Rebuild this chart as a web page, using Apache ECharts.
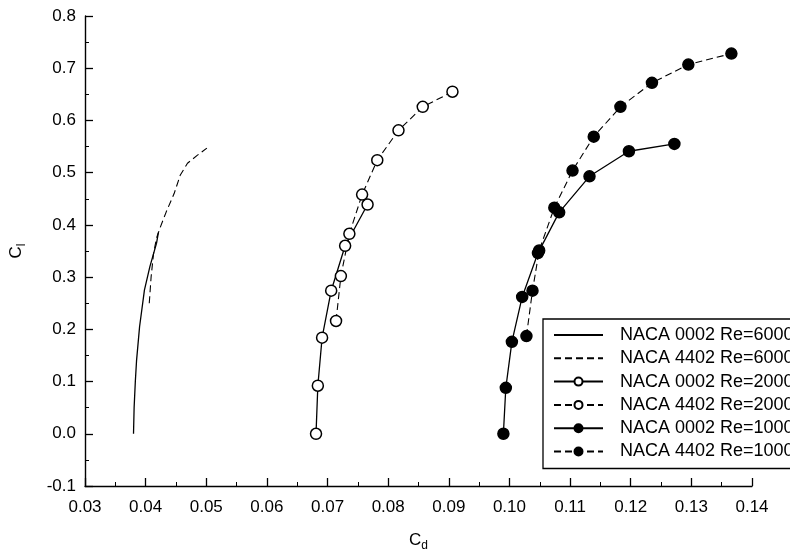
<!DOCTYPE html>
<html>
<head>
<meta charset="utf-8">
<script src="https://cdn.jsdelivr.net/npm/echarts@6/dist/echarts.min.js"></script>
<style>
html,body{margin:0;padding:0;background:#fff;}
#chart{width:790px;height:549px;}
</style>
</head>
<body>
<div id="chart"></div>
<script>
// ---- data ----
const seriesNames = [
  'NACA 0002 Re=6000',
  'NACA 4402 Re=6000',
  'NACA 0002 Re=2000',
  'NACA 4402 Re=2000',
  'NACA 0002 Re=1000',
  'NACA 4402 Re=1000'
];
const cd0002Re6000 = [0.0380, 0.0381, 0.0383, 0.0385, 0.0390, 0.0398, 0.0407, 0.0418, 0.0421];
const cl0002Re6000 = [0.000, 0.050, 0.100, 0.140, 0.205, 0.275, 0.320, 0.365, 0.385];
const cd4402Re6000 = [0.0406, 0.0409, 0.0413, 0.0418, 0.0424, 0.0434, 0.0447, 0.0457, 0.0469, 0.0485, 0.0501];
const cl4402Re6000 = [0.250, 0.300, 0.345, 0.375, 0.395, 0.425, 0.460, 0.495, 0.518, 0.533, 0.547];
const cd0002Re2000 = [0.0681, 0.0684, 0.0691, 0.0706, 0.0729, 0.0766];
const cl0002Re2000 = [0.000, 0.092, 0.184, 0.274, 0.360, 0.439];
const cd4402Re2000 = [0.0714, 0.0722, 0.0736, 0.0757, 0.0782, 0.0817, 0.0857, 0.0906];
const cl4402Re2000 = [0.216, 0.302, 0.383, 0.458, 0.524, 0.581, 0.626, 0.655];
const cd0002Re1000 = [0.0990, 0.0994, 0.1004, 0.1021, 0.1047, 0.1082, 0.1132, 0.1197, 0.1272];
const cl0002Re1000 = [0.000, 0.088, 0.176, 0.262, 0.346, 0.424, 0.493, 0.541, 0.555];
const cd4402Re1000 = [0.1028, 0.1038, 0.1049, 0.1074, 0.1104, 0.1139, 0.1183, 0.1235, 0.1295, 0.1366];
const cl4402Re1000 = [0.187, 0.274, 0.351, 0.433, 0.504, 0.569, 0.626, 0.672, 0.707, 0.728];

function pairs(xs, ys) { return xs.map((x, i) => [x, ys[i]]); }

const FONT = '"Liberation Sans", Arial, Helvetica, sans-serif';
const chart = echarts.init(document.getElementById('chart'), null, {renderer: 'canvas'});

const solid = {color: '#000', width: 1.3, type: 'solid'};
const dashed = {color: '#000', width: 1.1, type: [7, 4]};

function mk(name, data, line, symbol, fill) {
  return {
    name: name,
    type: 'line',
    data: data,
    smooth: false,
    symbol: symbol,
    showSymbol: symbol !== 'none',
    symbolSize: 11,
    lineStyle: line,
    itemStyle: {color: fill, borderColor: '#000', borderWidth: 1.5},
    emphasis: {disabled: true},
    animation: false,
    z: 3
  };
}

const legendData = seriesNames.map((n, i) => i < 2
  ? {name: n, itemStyle: {opacity: 0, color: 'transparent', borderWidth: 0}}
  : {name: n});

chart.setOption({
  backgroundColor: '#fff',
  animation: false,
  textStyle: {fontFamily: FONT, color: '#000'},
  grid: {left: 85, right: 38, top: 16, bottom: 63, containLabel: false, outerBoundsMode: 'none'},
  legend: {
    show: true,
    orient: 'vertical',
    left: 543,
    top: 319,
    padding: [7, 10, 8, 10],
    itemWidth: 49,
    itemHeight: 10,
    itemGap: 5.3,
    borderColor: '#000',
    borderWidth: 1.3,
    backgroundColor: '#fff',
    textStyle: {fontFamily: FONT, fontSize: 18, lineHeight: 16, color: '#000', padding: [0, 0, 0, 12]},
    data: legendData,
    selectedMode: false
  },
  xAxis: {
    type: 'value',
    min: 0.03,
    max: 0.14,
    interval: 0.01,
    name: '{c|C}{s|d}',
    nameLocation: 'middle',
    nameGap: 42,
    nameTextStyle: {
      rich: {
        c: {fontFamily: FONT, fontSize: 17, color: '#000'},
        s: {fontFamily: FONT, fontSize: 12, color: '#000', verticalAlign: 'bottom', padding: [12, 0, 0, 0]}
      }
    },
    axisLine: {show: true, onZero: false, lineStyle: {color: '#000', width: 1.4}},
    axisTick: {show: true, inside: true, length: 8, lineStyle: {color: '#000', width: 1.3}},
    minorTick: {show: true, splitNumber: 2, length: 4, lineStyle: {color: '#000', width: 1}},
    splitLine: {show: false},
    axisLabel: {fontFamily: FONT, fontSize: 17, color: '#000', margin: 13,
      formatter: v => v.toFixed(2)}
  },
  yAxis: {
    type: 'value',
    min: -0.1,
    max: 0.8,
    interval: 0.1,
    name: '{c|C}{s|l}',
    nameLocation: 'middle',
    nameRotate: 90,
    nameGap: 57,
    nameTextStyle: {
      rich: {
        c: {fontFamily: FONT, fontSize: 17, color: '#000'},
        s: {fontFamily: FONT, fontSize: 12, color: '#000', verticalAlign: 'bottom', padding: [12, 0, 0, 0]}
      }
    },
    axisLine: {show: true, onZero: false, lineStyle: {color: '#000', width: 1.4}},
    axisTick: {show: true, inside: true, length: 8, lineStyle: {color: '#000', width: 1.3}},
    minorTick: {show: true, splitNumber: 2, length: 4, lineStyle: {color: '#000', width: 1}},
    splitLine: {show: false},
    axisLabel: {fontFamily: FONT, fontSize: 17, color: '#000', margin: 9,
      formatter: v => v.toFixed(1)}
  },
  series: [
    mk(seriesNames[0], pairs(cd0002Re6000, cl0002Re6000), solid, 'none', '#000'),
    mk(seriesNames[1], pairs(cd4402Re6000, cl4402Re6000), dashed, 'none', '#000'),
    mk(seriesNames[2], pairs(cd0002Re2000, cl0002Re2000), solid, 'circle', '#fff'),
    mk(seriesNames[3], pairs(cd4402Re2000, cl4402Re2000), dashed, 'circle', '#fff'),
    mk(seriesNames[4], pairs(cd0002Re1000, cl0002Re1000), solid, 'circle', '#000'),
    mk(seriesNames[5], pairs(cd4402Re1000, cl4402Re1000), dashed, 'circle', '#000')
  ]
});
</script>
</body>
</html>
